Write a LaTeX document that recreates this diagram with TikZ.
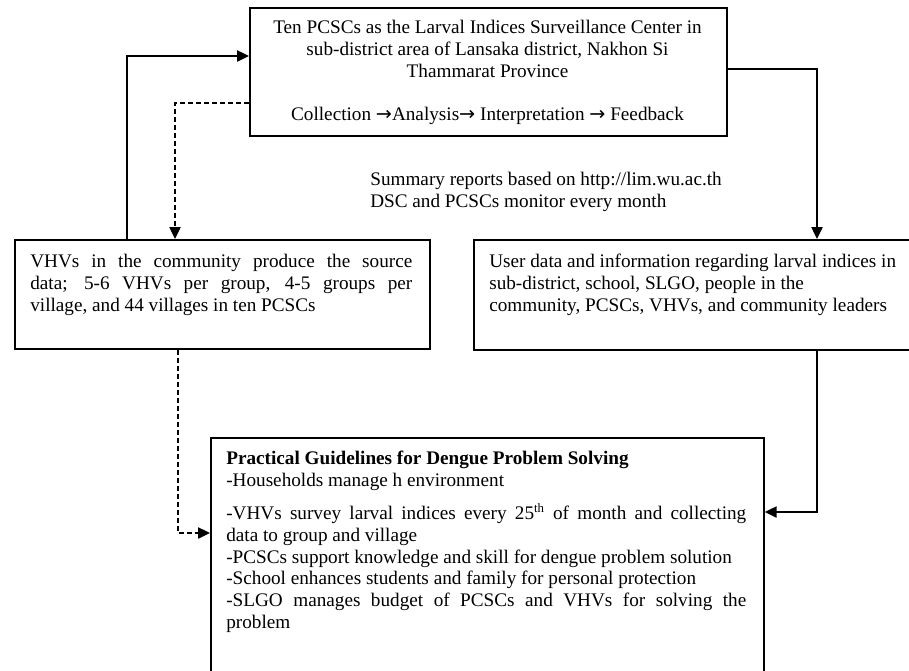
\documentclass[tikz,border=0pt]{standalone}
\usepackage{fontspec}
\setmainfont{Liberation Serif}
\newfontfamily\arrowfont{DejaVu Sans}
\usetikzlibrary{arrows.meta}

\newcommand{\flowarrow}{{\arrowfont\char"2192}}

\begin{document}
\begin{tikzpicture}[x=0.625pt,y=-0.625pt,
    >={Triangle[length=7.5pt,width=7pt]},
    box/.style={draw,line width=1.1pt,anchor=north west,inner sep=0pt},
    txt/.style={anchor=north west,inner sep=0pt,font=\fontsize{12}{13.6}\selectfont},
    link/.style={->,line width=1.1pt},
    dlink/.style={->,line width=1.1pt,dash pattern=on 3pt off 2pt}]
  \useasboundingbox (0,0) rectangle (909,670);
  \clip (0,0) rectangle (909,670);
  % boxes
  \node[box,minimum width=298.1pt,minimum height=80pt] (center) at (249,7) {};
  \node[box,minimum width=259.4pt,minimum height=68.1pt] (vhv) at (14,239) {};
  \node[box,minimum width=276.3pt,minimum height=68.8pt] (user) at (473,239) {};
  \node[box,minimum width=345.6pt,minimum height=158.1pt] (guide) at (210,437) {};
  % texts
  \node[txt,anchor=north,align=center] (centertext) at (487.5,20)
    {Ten PCSCs as the Larval  Indices Surveillance Center in\\
     sub-district area of Lansaka district, Nakhon Si\\
     Thammarat Province\\[13.6pt]
     Collection \flowarrow Analysis\flowarrow{} Interpretation \flowarrow{} Feedback};
  \node[txt,text width=238.75pt,align=justify] (vhvtext) at (30,254)
    {VHVs in the community produce the source\linebreak
     data; 5-6 VHVs per group, 4-5 groups per\linebreak
     village, and 44 villages in ten PCSCs};
  \node[txt,align=left] (usertext) at (489,254)
    {User data and information regarding larval indices in\\
     sub-district, school, SLGO, people in the\\
     community, PCSCs, VHVs, and community leaders};
  \node[txt,align=left] (summary) at (370,172)
    {Summary reports based on http://lim.wu.ac.th\\
     DSC and PCSCs monitor every month};
  \node[txt,text width=325pt,align=justify] (guidetext) at (226,451)
    {\textbf{Practical  Guidelines for Dengue Problem  Solving}\\
     -Households manage h environment\\[7pt]
     -VHVs survey larval indices every 25\textsuperscript{th} of month and collecting\linebreak
     data to group and village\\
     -PCSCs support knowledge and skill for dengue problem solution\\
     -School enhances students and family for personal protection\\
     -SLGO manages budget of PCSCs and VHVs for solving the\linebreak
     problem};
  % bends
  \coordinate (c1) at (127,56);
  \coordinate (c2) at (175,103);
  \coordinate (c3) at (817,69);
  \coordinate (c4) at (817,512);
  \coordinate (c5) at (178,533);
  % connectors
  \draw[link] (c1 |- vhv.north) |- (c1 -| center.west);
  \draw[dlink] (c2 -| center.west) -| (c2 |- vhv.north);
  \draw[link] (c3 -| center.east) -| (c3 |- user.north);
  \draw[link] (c4 |- user.south) |- (c4 -| guide.east);
  \draw[dlink] (c5 |- vhv.south) |- (c5 -| guide.west);
\end{tikzpicture}
\end{document}
